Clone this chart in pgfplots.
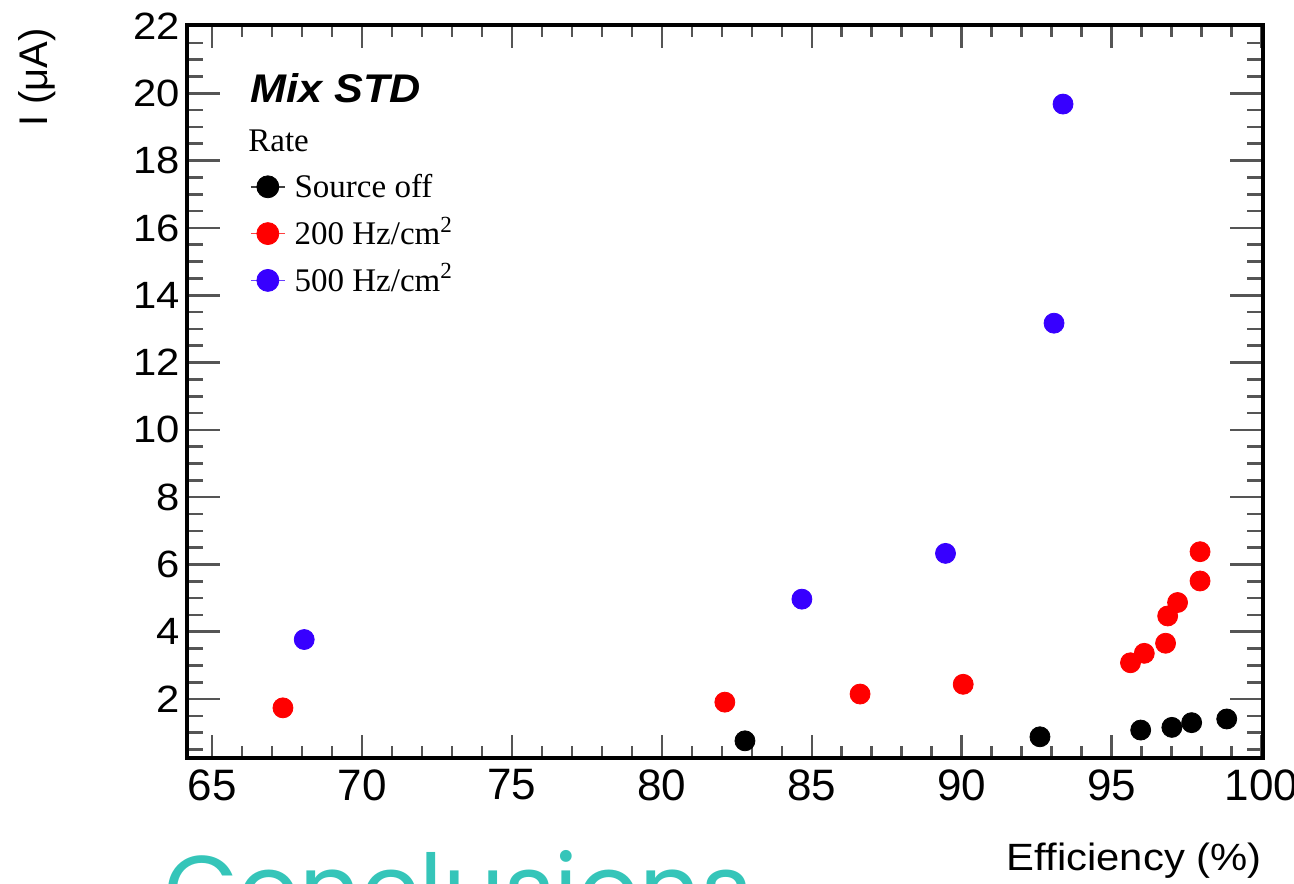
\documentclass[border=0pt]{standalone}
\usepackage{pgfplots}
\pgfplotsset{compat=1.18}
\usepackage{fontspec}
\setmainfont{Liberation Sans}
\newfontfamily\tms{Liberation Serif}
\newfontfamily\conc{Poppins}
\definecolor{rootblue}{RGB}{55,0,255}
\definecolor{rootred}{RGB}{255,0,0}
\definecolor{tealc}{RGB}{53,197,185}
\definecolor{tickgray}{RGB}{85,85,85}

\pgfplotstableread{
x y
82.77 0.76
92.61 0.88
95.97 1.08
97.01 1.16
97.67 1.30
98.84 1.41
}\srcoff
\pgfplotstableread{
x y
67.36 1.74
82.10 1.91
86.61 2.15
90.05 2.44
95.63 3.08
96.09 3.36
96.80 3.66
96.87 4.47
97.20 4.87
97.95 5.51
97.95 6.38
}\rateA
\pgfplotstableread{
x y
68.07 3.77
84.67 4.97
89.46 6.33
93.08 13.17
93.38 19.68
}\rateB

\begin{document}
\begin{tikzpicture}
\useasboundingbox (0,0) rectangle (647pt,441.5pt);
% axis with x ticks
\begin{axis}[at={(93.5pt,62.5pt)}, anchor=south west, scale only axis,
  width=538pt, height=366.5pt,
  xmin=64.16, xmax=100.05, ymin=0.25, ymax=22.03,
  xtick={65,70,...,100}, minor xtick={65,66,...,100}, ytick=\empty,
  tick align=inside, xtick pos=both, xticklabel pos=lower,
  major tick length=11.5pt, minor tick length=6pt,
  tick style={tickgray, line width=1.3pt},
  axis line style={line width=1.6pt, black},
  xticklabel style={font=\fontsize{22}{22}\selectfont, inner sep=0pt, yshift=-5.5pt},
  /pgf/number format/assume math mode=true,
]
\end{axis}
% axis with y ticks and data
\begin{axis}[at={(93.5pt,62.5pt)}, anchor=south west, scale only axis,
  width=538pt, height=366.5pt,
  xmin=64.16, xmax=100.05, ymin=0.25, ymax=22.03,
  ytick={2,4,...,22}, minor ytick={0.5,1,...,22}, xtick=\empty,
  tick align=inside, ytick pos=both, yticklabel pos=left,
  major tick length=16.5pt, minor tick length=8pt,
  tick style={tickgray, line width=1.3pt},
  axis line style={line width=1.6pt, black},
  yticklabel style={font=\fontsize{19}{19}\selectfont, inner sep=0pt, xshift=-3.5pt, xscale=1.1},
  /pgf/number format/assume math mode=true,
  legend style={at={(axis description cs:0.0586,0.797)}, anchor=north west,
    draw=none, fill=none, inner sep=0pt, outer sep=0pt,
    font=\tms\fontsize{16.5}{16.5}\selectfont,
    row sep=7.4pt, column sep=4.5pt,
    cells={anchor=base west},
    nodes={inner sep=0pt, text height=12pt, text depth=4pt}},
]
\addplot[only marks, mark=*, mark size=5pt, black,
  legend image code/.code={\draw[black!75, line width=0.8pt] (0pt,5.5pt)--(17pt,5.5pt); \fill[black] (8.5pt,5.5pt) circle (5.5pt);}]
  table[x=x,y=y] {\srcoff};
\addlegendentry{Source off}
\addplot[only marks, mark=*, mark size=5pt, rootred,
  legend image code/.code={\draw[rootred!75, line width=0.8pt] (0pt,5.5pt)--(17pt,5.5pt); \fill[rootred] (8.5pt,5.5pt) circle (5.5pt);}]
  table[x=x,y=y] {\rateA};
\addlegendentry{200 Hz/cm\textsuperscript{2}}
\addplot[only marks, mark=*, mark size=5pt, rootblue,
  legend image code/.code={\draw[rootblue!75, line width=0.8pt] (0pt,5.5pt)--(17pt,5.5pt); \fill[rootblue] (8.5pt,5.5pt) circle (5.5pt);}]
  table[x=x,y=y] {\rateB};
\addlegendentry{500 Hz/cm\textsuperscript{2}}
\end{axis}
% texts
\node[anchor=base west, inner sep=0pt, xscale=1.08, font=\fontsize{20}{20}\selectfont\bfseries\itshape] at (125pt,390pt) {Mix STD};
\node[anchor=base west, inner sep=0pt, font=\tms\fontsize{16.5}{16.5}\selectfont] at (124pt,365.5pt) {Rate};
\node[anchor=base east, inner sep=0pt, xscale=1.1, font=\fontsize{19}{19}\selectfont] at (631pt,6.5pt) {Efficiency (\%)};
\node[anchor=base east, inner sep=0pt, rotate=90, font=\fontsize{20}{20}\selectfont] at (23.5pt,427.5pt) {I (μA)};
\node[anchor=base west, inner sep=0pt, text=tealc, font=\conc\fontsize{48}{48}\selectfont] at (82pt,-20pt) {Conclusions};
\end{tikzpicture}
\end{document}
